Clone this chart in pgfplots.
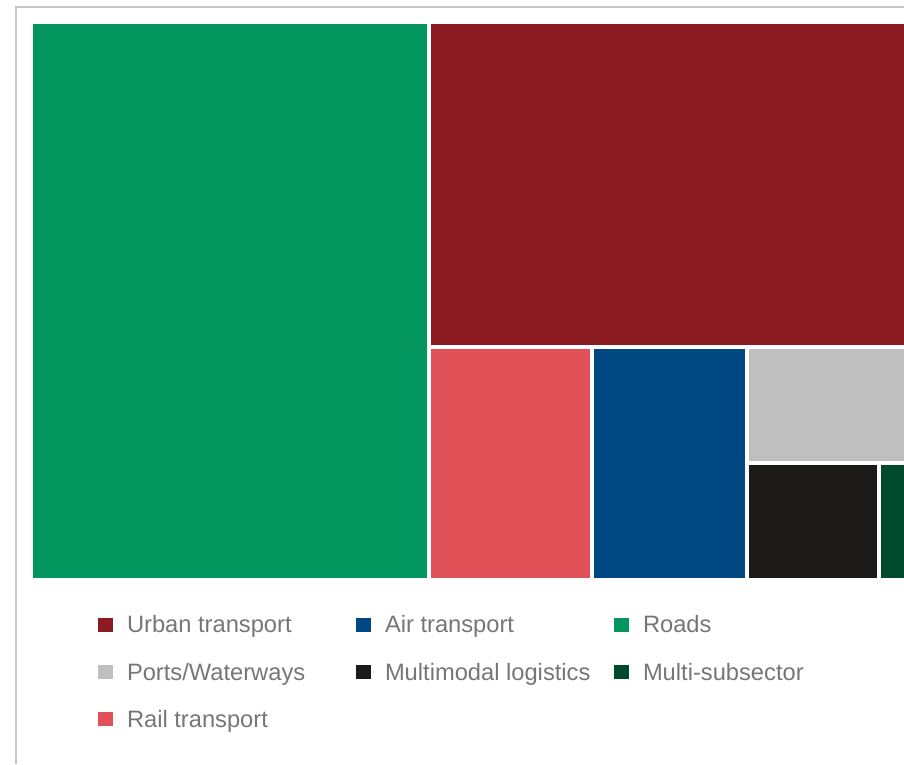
\documentclass[border=0pt]{standalone}
\usepackage{fontspec}
\setmainfont{Liberation Sans}
\usepackage{pgfplots}
\pgfplotsset{compat=1.18}
\definecolor{cRoads}{HTML}{02965E}
\definecolor{cUrban}{HTML}{8B1A21}
\definecolor{cRail}{HTML}{E05258}
\definecolor{cAir}{HTML}{004882}
\definecolor{cPorts}{HTML}{BFBFBF}
\definecolor{cMulti}{HTML}{1C1B19}
\definecolor{cSub}{HTML}{004B2E}
\definecolor{cText}{HTML}{767676}
\definecolor{cFrame}{HTML}{C8C8C8}
\newcommand{\lt}[1]{\makebox[243pt][l]{\hspace{14pt}#1}}
\begin{document}
\begin{tikzpicture}
\begin{axis}[
  width=904pt, height=764pt, scale only axis,
  xmin=0, xmax=904, ymin=0, ymax=764, y dir=reverse,
  hide axis,
  legend columns=3,
  legend cell align=left,
  legend style={at={(axis cs:98,599.7)}, anchor=north west, draw=none, fill=none,
    inner sep=0pt, outer sep=0pt, column sep=0pt, row sep=0pt,
    font=\fontsize{23.7}{28}\selectfont\color{cText},
    nodes={inner sep=0pt, outer sep=0pt, text height=33pt, text depth=14.3pt}},
  legend image code/.code={\fill (0pt,-8.35pt) rectangle (15pt,5.65pt);},
]
\path (axis cs:0,0) rectangle (axis cs:904,764);
% treemap rectangles (pixel coordinates: x0,y0 to x1,y1)
\addplot[fill=cUrban, draw=none] coordinates {(431,24) (904,24) (904,344.5) (431,344.5)} -- cycle;
\addlegendentry{\lt{Urban transport}}
\addplot[fill=cAir, draw=none] coordinates {(594,349) (745,349) (745,578) (594,578)} -- cycle;
\addlegendentry{\lt{Air transport}}
\addplot[fill=cRoads, draw=none] coordinates {(33,24) (427,24) (427,578) (33,578)} -- cycle;
\addlegendentry{\lt{Roads}}
\addplot[fill=cPorts, draw=none] coordinates {(749,349) (904,349) (904,461) (749,461)} -- cycle;
\addlegendentry{\lt{Ports/Waterways}}
\addplot[fill=cMulti, draw=none] coordinates {(749,465) (877,465) (877,578) (749,578)} -- cycle;
\addlegendentry{\lt{Multimodal logistics}}
\addplot[fill=cSub, draw=none] coordinates {(881,465) (904,465) (904,578) (881,578)} -- cycle;
\addlegendentry{\lt{Multi-subsector}}
\addplot[fill=cRail, draw=none] coordinates {(431,349) (590,349) (590,578) (431,578)} -- cycle;
\addlegendentry{\lt{Rail transport}}
\draw[cFrame, line width=2pt] (axis cs:16,764) -- (axis cs:16,7) -- (axis cs:904,7);
\end{axis}
\end{tikzpicture}
\end{document}
